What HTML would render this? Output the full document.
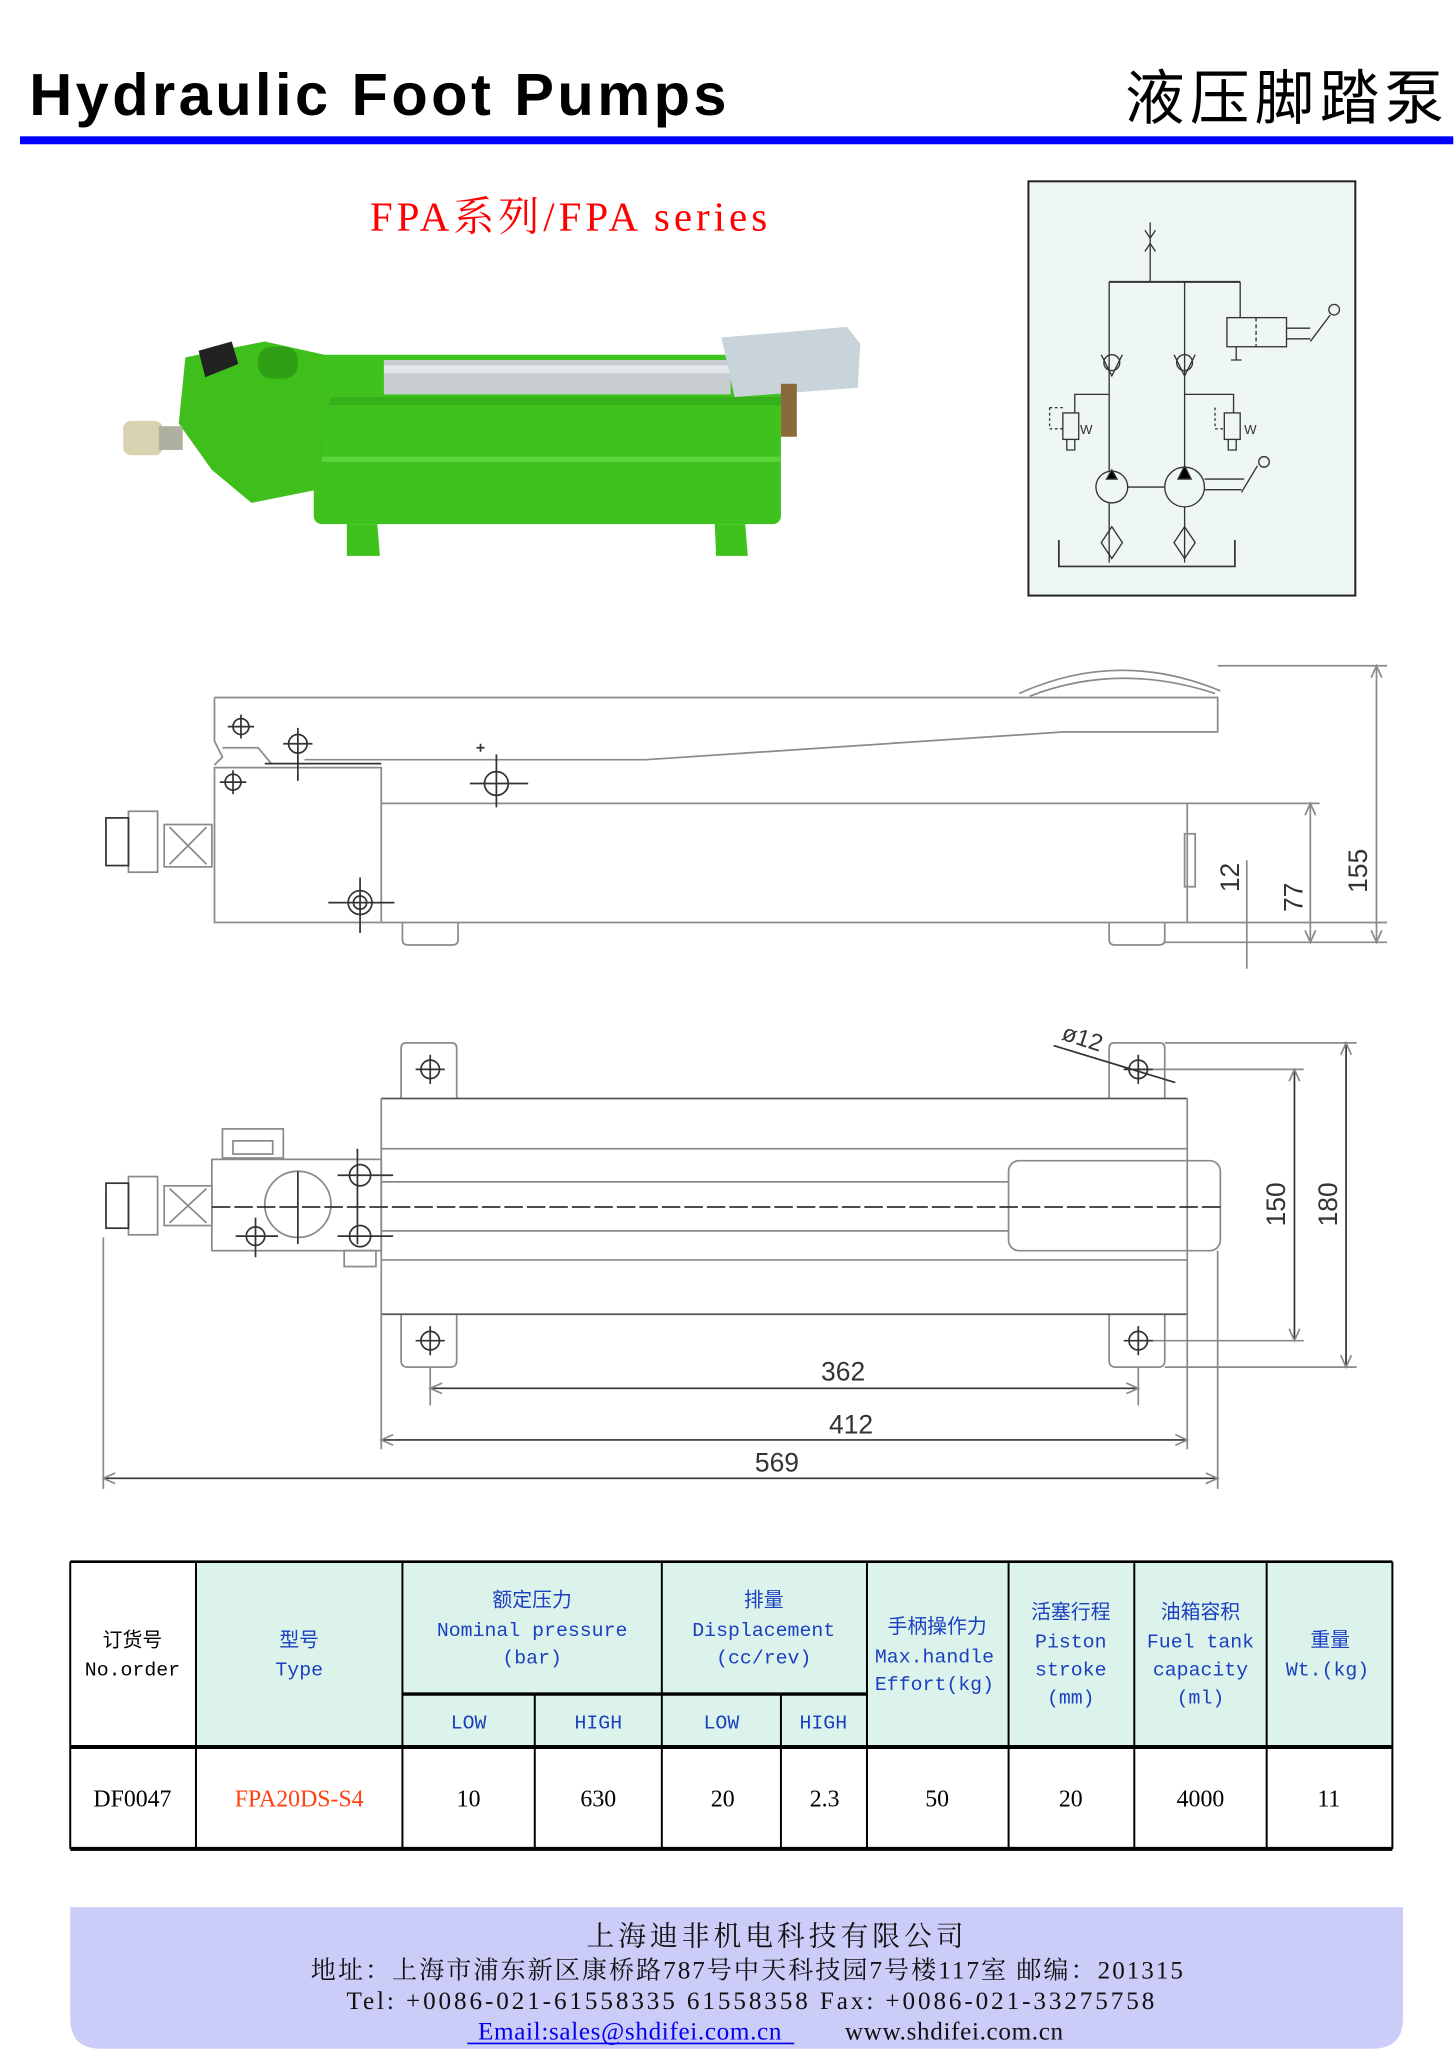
<!DOCTYPE html>
<html><head><meta charset="utf-8"><style>
html,body{margin:0;padding:0;background:#fff}
svg{display:block}
.cn{font-family:"Liberation Sans","Noto Sans CJK SC",sans-serif}
.sr{font-family:"Liberation Serif","Noto Serif CJK SC",serif}
.mo{font-family:"Liberation Mono","Noto Sans CJK SC",monospace}
</style></head><body>
<svg width="1456" height="2058" viewBox="0 0 1100 1555" xmlns="http://www.w3.org/2000/svg">
<!-- header -->
<text x="22" y="87" class="cn" font-size="45" font-weight="bold" letter-spacing="2.6">Hydraulic Foot Pumps</text>
<text x="1095" y="90" class="cn" font-size="45" text-anchor="end" letter-spacing="4">液压脚踏泵</text>
<rect x="15" y="103" width="1083" height="6" fill="#0000ff"/>
<text x="431" y="174" class="sr" font-size="31" fill="#ff0000" text-anchor="middle" letter-spacing="3">FPA系列/FPA series</text>

<!-- photo approximation -->
<g>
<rect x="237" y="268" width="353" height="128" rx="6" fill="#3fc21e"/>
<rect x="240" y="300" width="350" height="6" fill="#36b01a"/>
<rect x="240" y="345" width="350" height="4" fill="#5bd43a"/>
<path d="M140 270 L200 258 L245 268 L250 300 L240 370 L190 380 L160 355 L135 320 Z" fill="#3fbf1c"/>
<path d="M150 265 L175 258 L180 275 L155 285 Z" fill="#222"/>
<rect x="195" y="262" width="30" height="24" rx="10" fill="#2f9f16"/>
<rect x="290" y="272" width="262" height="26" fill="#c6ccd0"/>
<rect x="290" y="276" width="262" height="6" fill="#e4e8ea"/>
<path d="M545 255 L640 247 L650 260 L648 293 L555 300 Z" fill="#c9d3da"/>
<rect x="93" y="318" width="30" height="26" rx="6" fill="#d8d2b0"/>
<rect x="120" y="322" width="18" height="18" fill="#b0b0a0"/>
<path d="M262 396 L285 396 L287 420 L262 420 Z" fill="#3fc21e"/>
<path d="M540 396 L563 396 L565 420 L541 420 Z" fill="#3fc21e"/>
<rect x="590" y="290" width="12" height="40" fill="#8a6a3a"/>
</g>

<!-- schematic box -->
<rect x="777" y="137" width="247" height="313" fill="#eef6f6" stroke="#222" stroke-width="1.5"/>
<g stroke="#333" stroke-width="1" fill="none">
<line x1="869" y1="168" x2="869" y2="213"/>
<path d="M865 174 L869 180 L873 174 M865 190 L869 184 L873 190"/>
<line x1="838" y1="213" x2="937" y2="213" stroke-width="1.5"/>
<line x1="838" y1="213" x2="838" y2="425"/>
<line x1="895" y1="213" x2="895" y2="425"/>
<line x1="937" y1="213" x2="937" y2="240"/>
<rect x="927" y="240" width="45" height="22"/>
<line x1="949" y1="240" x2="949" y2="262" stroke-dasharray="3 2"/>
<path d="M972 248 L990 248 M972 256 L990 256 M990 258 L1005 238"/>
<circle cx="1008" cy="234" r="4"/>
<path d="M934 262 L934 272 M930 272 L938 272"/>
<circle cx="840" cy="274" r="6"/><path d="M832 268 L840 284 L848 268"/>
<circle cx="895" cy="274" r="6"/><path d="M887 268 L895 284 L903 268"/>
<path d="M838 298 L812 298 L812 312 M895 298 L932 298 L932 312"/>
<rect x="803" y="312" width="12" height="20"/><path d="M793 308 L793 324 L803 324 M793 308 L803 308" stroke-dasharray="2 2"/>
<text x="816" y="328" font-size="10" stroke="none" fill="#333" class="cn">W</text>
<path d="M806 332 L806 340 L812 340 L812 332"/>
<rect x="925" y="312" width="12" height="20"/><path d="M918 308 L918 324 L925 324" stroke-dasharray="2 2"/>
<text x="940" y="328" font-size="10" stroke="none" fill="#333" class="cn">W</text>
<path d="M928 332 L928 340 L934 340 L934 332"/>
<circle cx="840" cy="368" r="12" fill="#eef6f6"/>
<path d="M836 362 L840 355 L844 362 Z" fill="#000"/>
<line x1="852" y1="368" x2="880" y2="368"/>
<circle cx="895" cy="368" r="15" fill="#eef6f6"/>
<path d="M890 362 L895 352 L900 362 Z" fill="#000"/>
<path d="M910 362 L940 362 M910 370 L938 370 M938 372 L950 352"/>
<circle cx="955" cy="349" r="4"/>
<path d="M840 398 L848 410 L840 422 L832 410 Z"/>
<path d="M895 398 L903 410 L895 422 L887 410 Z"/>
<path d="M800 408 L800 428 L933 428 L933 408" stroke-width="1.3"/>
</g>

<!-- side view -->
<g stroke="#8a8a8a" stroke-width="1.3" fill="none">
<path d="M162 527 L920 527 L920 553 L804 553 L488 574 L230 574"/>
<path d="M770 524 Q845 490 922 522 M778 526 Q845 500 918 524"/>
<path d="M162 527 L162 560 L168 572 L162 578"/>
<path d="M168 565 L195 565 L205 577"/>
<path d="M920 503 L1048 503"/>
<rect x="162" y="580" width="126" height="117"/>
<path d="M288 607 L997 607 M288 697 L1048 697"/>
<line x1="897" y1="607" x2="897" y2="697"/>
<rect x="895" y="630" width="8" height="40"/>
<path d="M304 697 L304 710 Q304 714 308 714 L342 714 Q346 714 346 710 L346 697"/>
<path d="M838 697 L838 710 Q838 714 842 714 L876 714 Q880 714 880 710 L880 697"/>
<rect x="124" y="623" width="36" height="32"/><path d="M128 625 L156 653 M156 625 L128 653"/>
<rect x="97" y="613" width="22" height="46"/>
<rect x="80" y="618" width="17" height="36" stroke="#333"/>
<path d="M1040 503 L1040 712 M990 607 L990 712 M942 650 L942 732"/>
<path d="M880 712 L1048 712"/>
<path d="M1036 512 L1040 503 L1044 512 M1036 703 L1040 712 L1044 703 M986 616 L990 607 L994 616 M986 703 L990 712 L994 703"/>
</g>
<g stroke="#333" stroke-width="1.3" fill="none">
<path d="M200 577 L288 577"/>
<circle cx="182" cy="549" r="6"/><path d="M172 549 L192 549 M182 540 L182 558"/>
<circle cx="225" cy="562" r="7"/><path d="M214 562 L236 562 M225 550 L225 590"/>
<circle cx="176" cy="591" r="6"/><path d="M166 591 L186 591 M176 582 L176 600"/>
<circle cx="375" cy="592" r="9"/><path d="M355 592 L399 592 M375 570 L375 610 M363 562 L363 568 M360 565 L366 565"/>
<circle cx="272" cy="682" r="9"/><circle cx="272" cy="682" r="5"/><path d="M248 682 L298 682 M272 663 L272 705"/>
</g>
<text class="cn" font-size="20" fill="#333" transform="translate(1033 658) rotate(-90)" text-anchor="middle">155</text>
<text class="cn" font-size="20" fill="#333" transform="translate(984 678) rotate(-90)" text-anchor="middle">77</text>
<text class="cn" font-size="20" fill="#333" transform="translate(936 663) rotate(-90)" text-anchor="middle">12</text>

<!-- top view -->
<g stroke="#8a8a8a" stroke-width="1.3" fill="none">
<path d="M303 830 L303 792 Q303 788 307 788 L341 788 Q345 788 345 792 L345 830"/>
<path d="M838 830 L838 792 Q838 788 842 788 L876 788 Q880 788 880 792 L880 830"/>
<path d="M303 993 L303 1028 Q303 1033 308 1033 L340 1033 Q345 1033 345 1028 L345 993"/>
<path d="M838 993 L838 1028 Q838 1033 843 1033 L875 1033 Q880 1033 880 1028 L880 993"/>
<path d="M288 830 L897 830 M288 993 L897 993" stroke="#555"/>
<path d="M288 868 L897 868 M288 952 L897 952 M288 893 L762 893 M288 930 L762 930"/>
<line x1="288" y1="830" x2="288" y2="1095"/>
<line x1="897" y1="830" x2="897" y2="1095"/>
<rect x="762" y="877" width="160" height="68" rx="8"/>
<rect x="160" y="876" width="128" height="69"/>
<circle cx="225" cy="910" r="25"/>
<rect x="124" y="896" width="36" height="30"/><path d="M128 898 L156 924 M156 898 L128 924"/>
<rect x="97" y="889" width="22" height="44"/>
<rect x="80" y="894" width="17" height="34" stroke="#333"/>
<rect x="168" y="853" width="46" height="22"/><rect x="176" y="862" width="30" height="10"/>
<rect x="260" y="945" width="24" height="12"/>
<path d="M78 935 L78 1125 M920 945 L920 1125 M325 1033 L325 1062 M860 1033 L860 1062"/>
<path d="M325 1049 L860 1049 M288 1088 L897 1088 M78 1117 L920 1117" stroke="#333"/>
<path d="M334 1045 L325 1049 L334 1053 M851 1045 L860 1049 L851 1053 M297 1084 L288 1088 L297 1092 M888 1084 L897 1088 L888 1092 M87 1113 L78 1117 L87 1121 M911 1113 L920 1117 L911 1121"/>
<path d="M860 808 L985 808 M860 1013 L985 1013 M880 788 L1025 788 M880 1033 L1025 1033"/>
<path d="M978 808 L978 1013 M1017 788 L1017 1033" stroke="#333"/>
<path d="M974 817 L978 808 L982 817 M974 1004 L978 1013 L982 1004 M1013 797 L1017 788 L1021 797 M1013 1024 L1017 1033 L1021 1024"/>
<path d="M796 790 L888 818" stroke="#333"/>
</g>
<line x1="160" y1="912" x2="922" y2="912" stroke="#333" stroke-width="1.3" stroke-dasharray="14 3"/>
<g stroke="#333" stroke-width="1.3" fill="none">
<circle cx="325" cy="808" r="7"/><path d="M314 808 L336 808 M325 797 L325 819"/>
<circle cx="860" cy="808" r="7"/><path d="M849 808 L871 808 M860 797 L860 819"/>
<circle cx="325" cy="1013" r="7"/><path d="M314 1013 L336 1013 M325 1002 L325 1024"/>
<circle cx="860" cy="1013" r="7"/><path d="M849 1013 L871 1013 M860 1002 L860 1024"/>
<circle cx="272" cy="888" r="8"/><path d="M255 888 L297 888 M270 868 L270 940"/>
<circle cx="272" cy="934" r="8"/><path d="M255 934 L297 934"/>
<circle cx="193" cy="934" r="7"/><path d="M178 934 L210 934 M193 920 L193 950"/>
<path d="M225 885 L225 940"/>
</g>
<text x="637" y="1043" class="cn" font-size="20" fill="#333" text-anchor="middle">362</text>
<text x="643" y="1083" class="cn" font-size="20" fill="#333" text-anchor="middle">412</text>
<text x="587" y="1112" class="cn" font-size="20" fill="#333" text-anchor="middle">569</text>
<text class="cn" font-size="18" fill="#333" transform="translate(816 790) rotate(18)" text-anchor="middle">ø12</text>
<text class="cn" font-size="20" fill="#333" transform="translate(971 910) rotate(-90)" text-anchor="middle">150</text>
<text class="cn" font-size="20" fill="#333" transform="translate(1010 910) rotate(-90)" text-anchor="middle">180</text>

<!-- table -->
<rect x="148" y="1180" width="904" height="140" fill="#dcf3ec"/>
<g stroke="#000" fill="none">
<path d="M53 1180 L1052 1180" stroke-width="2"/>
<path d="M53 1320 L1052 1320 M53 1397 L1052 1397" stroke-width="3"/>
<path d="M304 1280 L655 1280" stroke-width="2.5"/>
<path d="M53 1180 V1397 M148 1180 V1397 M304 1180 V1397 M500 1180 V1397 M655 1180 V1397 M762 1180 V1397 M857 1180 V1397 M957 1180 V1397 M1052 1180 V1397" stroke-width="1.5"/>
<path d="M404 1280 V1397 M590 1280 V1397" stroke-width="1.5"/>
</g>
<g class="mo" font-size="15" text-anchor="middle">
<text x="100" y="1244">订货号</text><text x="100" y="1266">No.order</text>
<g fill="#1a3fbf">
<text x="226" y="1244">型号</text><text x="226" y="1266">Type</text>
<text x="402" y="1214">额定压力</text><text x="402" y="1236">Nominal pressure</text><text x="402" y="1257">(bar)</text>
<text x="577" y="1214">排量</text><text x="577" y="1236">Displacement</text><text x="577" y="1257">(cc/rev)</text>
<text x="708" y="1234">手柄操作力</text><text x="706" y="1256">Max.handle</text><text x="706" y="1277">Effort(kg)</text>
<text x="809" y="1223">活塞行程</text><text x="809" y="1245">Piston</text><text x="809" y="1266">stroke</text><text x="809" y="1287">(mm)</text>
<text x="907" y="1223">油箱容积</text><text x="907" y="1245">Fuel tank</text><text x="907" y="1266">capacity</text><text x="907" y="1287">(ml)</text>
<text x="1005" y="1244">重量</text><text x="1003" y="1266">Wt.(kg)</text>
<text x="354" y="1306">LOW</text><text x="452" y="1306">HIGH</text><text x="545" y="1306">LOW</text><text x="622" y="1306">HIGH</text>
</g>
</g>
<g class="sr" font-size="18" text-anchor="middle">
<text x="100" y="1365">DF0047</text>
<text x="226" y="1365" fill="#ff4010">FPA20DS-S4</text>
<text x="354" y="1365">10</text><text x="452" y="1365">630</text>
<text x="546" y="1365">20</text><text x="623" y="1365">2.3</text>
<text x="708" y="1365">50</text><text x="809" y="1365">20</text>
<text x="907" y="1365">4000</text><text x="1004" y="1365">11</text>
</g>

<!-- footer -->
<path d="M53 1441 L1060 1441 L1060 1525 Q1060 1548 1037 1548 L76 1548 Q53 1548 53 1525 Z" fill="#ccccf8"/>
<g class="sr" font-size="19" text-anchor="middle" fill="#111">
<text x="587" y="1470" font-size="21" letter-spacing="3">上海迪非机电科技有限公司</text>
<text x="565" y="1495" letter-spacing="1.5">地址：上海市浦东新区康桥路787号中天科技园7号楼117室 邮编：201315</text>
<text x="568" y="1518" letter-spacing="2.2">Tel: +0086-021-61558335 61558358  Fax: +0086-021-33275758</text>
<text x="476" y="1541" fill="#0000ee" letter-spacing="0.5">Email:sales@shdifei.com.cn</text>
<text x="721" y="1541" letter-spacing="0.5">www.shdifei.com.cn</text>
</g>
<line x1="353" y1="1544" x2="600" y2="1544" stroke="#0000ee" stroke-width="1.2"/>
</svg>
</body></html>
